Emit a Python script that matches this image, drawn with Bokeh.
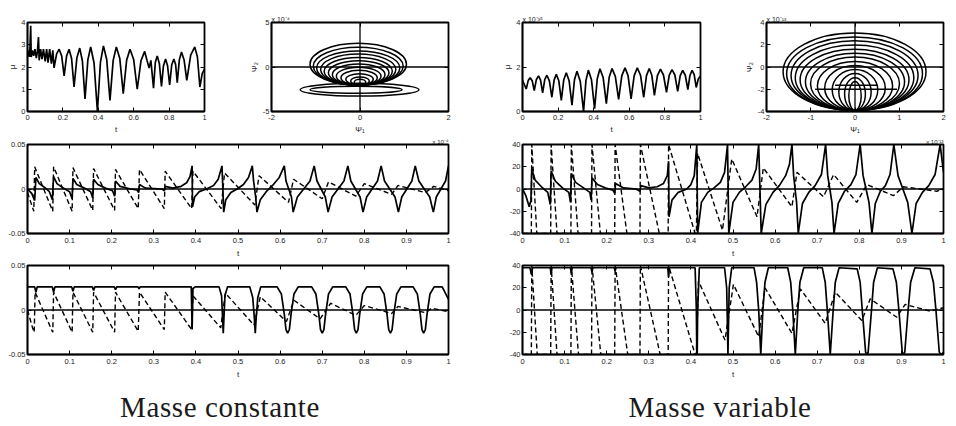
from bokeh.plotting import figure
from bokeh.models import Range1d, FixedTicker, Span, LinearAxis, Title, Div
from bokeh.layouts import column, row
from bokeh.embed import file_html
from bokeh.resources import INLINE

# ---------------- data ----------------
# Panel A : mu(t), masse constante
mu_const_pts = [(0, 2.45), (0.006, 2.75), (0.012, 2.45), (0.018, 3.85), (0.021, 2.45), (0.028, 2.75),
                (0.035, 2.5), (0.042, 2.8), (0.05, 2.4), (0.056, 2.7), (0.062, 3.35), (0.066, 2.3),
                (0.074, 2.8), (0.082, 2.35), (0.09, 2.8), (0.1, 2.25), (0.108, 2.8), (0.116, 2.2),
                (0.125, 2.8), (0.135, 2.15), (0.143, 2.75), (0.15, 1.96), (0.1645, 2.59), (0.179, 2.8),
                (0.193, 2.5), (0.207, 1.6), (0.221, 2.5), (0.235, 2.8), (0.249, 2.38), (0.263, 1.1),
                (0.279, 2.41), (0.295, 2.85), (0.31, 2.28), (0.325, 0.57), (0.341, 2.32), (0.357, 2.9),
                (0.376, 2.18), (0.395, 0.0), (0.412, 2.21), (0.429, 2.95), (0.4475, 2.34), (0.466, 0.5),
                (0.484, 2.3), (0.502, 2.9), (0.5215, 2.38), (0.541, 0.8), (0.56, 2.3), (0.579, 2.8),
                (0.5995, 2.35), (0.62, 1.0), (0.641, 2.28), (0.662, 2.7), (0.675, 2.3), (0.687, 1.95),
                (0.697, 2.3), (0.712, 1.05), (0.722, 2.2), (0.733, 2.5), (0.745, 2.15), (0.757, 1.13),
                (0.768, 2.05), (0.78, 2.36), (0.791, 2.07), (0.803, 1.2), (0.815, 2.1), (0.827, 2.36),
                (0.837, 2.1), (0.846, 1.3), (0.858, 2.33), (0.87, 2.67), (0.885, 2.3), (0.9, 1.4),
                (0.922, 2.53), (0.945, 2.9), (0.96, 2.45), (0.974, 1.1), (0.987, 1.7), (1.0, 1.9)]

# Panel E : mu(t), masse variable (x 1e-35)
mu_var_pts = [(0, 1.4), (0.021, 1.01), (0.032, 1.39), (0.043, 1.52), (0.0545, 1.38), (0.066, 0.94),
              (0.078, 1.44), (0.09, 1.6), (0.1015, 1.41), (0.113, 0.84), (0.125, 1.43), (0.137, 1.63),
              (0.151, 1.38), (0.165, 0.64), (0.1775, 1.41), (0.19, 1.67), (0.204, 1.38), (0.218, 0.5),
              (0.232, 1.43), (0.246, 1.74), (0.262, 1.38), (0.278, 0.28), (0.292, 1.43), (0.306, 1.81),
              (0.3245, 1.36), (0.343, 0.0), (0.3565, 1.4), (0.37, 1.86), (0.3875, 1.43), (0.405, 0.13),
              (0.42, 1.47), (0.435, 1.92), (0.453, 1.53), (0.471, 0.35), (0.487, 1.54), (0.503, 1.93),
              (0.5215, 1.58), (0.54, 0.54), (0.558, 1.61), (0.576, 1.96), (0.593, 1.61), (0.61, 0.57),
              (0.6275, 1.61), (0.645, 1.96), (0.663, 1.63), (0.681, 0.64), (0.6965, 1.61), (0.712, 1.93),
              (0.7265, 1.63), (0.741, 0.72), (0.758, 1.61), (0.775, 1.9), (0.792, 1.64), (0.809, 0.86),
              (0.8245, 1.63), (0.84, 1.88), (0.856, 1.64), (0.872, 0.9), (0.886, 1.61), (0.9, 1.85),
              (0.9145, 1.63), (0.929, 0.98), (0.941, 1.63), (0.953, 1.85), (0.9645, 1.66), (0.976, 1.08),
              (0.988, 1.47), (1.0, 1.6)]

# Panel B : phase portrait (psi1, psi2) x 1e-4, closed loops (centre, width, height)
loops_c_x = [-0.04, -0.04, -0.04, -0.04, -0.04, -0.03, -0.03, -0.03, -0.02, -0.01, 0.0, 0.0, -0.01, -0.09]
loops_c_y = [0.31, 0.10, -0.11, -0.29, -0.48, -0.66, -0.84, -1.03, -1.2, -1.39, -1.57, -1.7, -2.55, -2.56]
loops_c_w = [2.18, 2.03, 1.88, 1.70, 1.54, 1.37, 1.19, 1.01, 0.82, 0.62, 0.42, 0.26, 2.68, 2.08]
loops_c_h = [4.69, 4.25, 3.84, 3.48, 3.11, 2.74, 2.38, 2.01, 1.65, 1.28, 0.91, 0.66, 1.43, 0.77]

# Panel F : phase portrait (psi1, psi2) x 1e-13
loops_v_x = [-0.01, -0.01, -0.01, -0.01, -0.01, 0.0, 0.0, 0.0, 0.0, 0.0, 0.0, 0.0, 0.0]
loops_v_y = [-0.42, -0.6, -0.77, -0.96, -1.15, -1.33, -1.5, -1.7, -1.89, -2.06, -2.24, -2.43, -2.6]
loops_v_w = [3.23, 3.07, 2.87, 2.68, 2.46, 2.24, 2.01, 1.70, 1.37, 1.03, 0.73, 0.47, 0.28]
loops_v_h = [6.96, 6.61, 6.26, 5.88, 5.5, 5.15, 4.79, 4.41, 4.03, 3.68, 3.33, 2.95, 2.6]
bars_v_x0 = [-0.9, -0.45]
bars_v_x1 = [0.95, 0.5]
bars_v_y = [-2.0, -1.65]

# Panel C : masse constante, psi1 (solid) and psi2 (dashed)
c_solid_pts = [(0, 0.0), (0.01, -0.005), (0.017, -0.013), (0.02, 0.013), (0.028, 0.006), (0.04, 0.002),
               (0.052, -0.003), (0.059, -0.012), (0.062, 0.014), (0.07, 0.006), (0.085, 0.001),
               (0.1, -0.003), (0.106, -0.011), (0.108, 0.012), (0.117, 0.005), (0.135, 0.001),
               (0.15, -0.003), (0.155, -0.01), (0.157, 0.011), (0.167, 0.005), (0.185, 0.001),
               (0.202, -0.002), (0.207, -0.008), (0.209, 0.009), (0.22, 0.003), (0.245, 0.0),
               (0.26, -0.001), (0.264, -0.004), (0.266, 0.005), (0.28, 0.001), (0.32, 0.0),
               (0.325, -0.002), (0.327, 0.003), (0.345, 0.001), (0.365, 0.003), (0.378, 0.007),
               (0.386, 0.014), (0.391, 0.026), (0.392, -0.02), (0.397, -0.009), (0.408, -0.003),
               (0.425, 0.0), (0.442, 0.004), (0.453, 0.011), (0.462, 0.026), (0.466, -0.026),
               (0.471, -0.012), (0.483, -0.004), (0.498, 0.0), (0.513, 0.005), (0.525, 0.013),
               (0.534, 0.026), (0.537, 0.009), (0.5395, 0.0), (0.542, -0.009), (0.545, -0.026),
               (0.553, -0.012), (0.567, -0.003), (0.582, 0.004), (0.598, 0.013), (0.61, 0.026),
               (0.614, 0.009), (0.6205, 0.0), (0.627, -0.009), (0.631, -0.026), (0.641, -0.009),
               (0.656, 0.0), (0.671, 0.009), (0.681, 0.026), (0.6876, 0.009), (0.6975, 0.0),
               (0.7074, -0.009), (0.714, -0.026), (0.7234, -0.009), (0.7375, 0.0), (0.7516, 0.009),
               (0.761, 0.026), (0.768, 0.009), (0.779, 0.0), (0.79, -0.009), (0.797, -0.026),
               (0.8056, -0.009), (0.8185, 0.0), (0.8314, 0.009), (0.84, 0.026), (0.848, 0.009),
               (0.8605, 0.0), (0.873, -0.009), (0.881, -0.026), (0.889, -0.009), (0.901, 0.0),
               (0.913, 0.009), (0.921, 0.026), (0.9296, 0.009), (0.9425, 0.0), (0.9554, -0.009),
               (0.964, -0.026), (0.971, -0.009), (0.982, 0.0), (0.993, 0.009), (1.0, 0.026)]
c_dash_pts = [(0, -0.004), (0.015, -0.025), (0.017, 0.025), (0.06, -0.025), (0.062, 0.025),
              (0.106, -0.025), (0.108, 0.024), (0.155, -0.024), (0.157, 0.023), (0.207, -0.024),
              (0.209, 0.022), (0.263, -0.022), (0.266, 0.022), (0.325, -0.022), (0.327, 0.02),
              (0.39, -0.022), (0.393, 0.02), (0.46, -0.022), (0.468, 0.018), (0.54, -0.018),
              (0.55, 0.015), (0.62, -0.015), (0.632, 0.011), (0.7, -0.011), (0.715, 0.008),
              (0.78, -0.008), (0.8, 0.006), (0.865, -0.006), (0.88, 0.004), (0.945, -0.004),
              (0.965, 0.003), (1.0, -0.002)]

# Panel D : masse constante, second pair
d_solid_pts = [(0, 0.026), (0.017, 0.026), (0.02, 0.02), (0.023, 0.026), (0.059, 0.026), (0.062, 0.02),
               (0.065, 0.026), (0.105, 0.026), (0.108, 0.021), (0.111, 0.026), (0.154, 0.026),
               (0.157, 0.022), (0.16, 0.026), (0.206, 0.026), (0.209, 0.023), (0.212, 0.026),
               (0.262, 0.026), (0.265, 0.024), (0.268, 0.026), (0.389, 0.026), (0.391, -0.022),
               (0.393, 0.024), (0.398, 0.026), (0.455, 0.026), (0.461, 0.016), (0.465, -0.026),
               (0.469, 0.016), (0.475, 0.026), (0.528, 0.026), (0.535, 0.014), (0.539, -0.01),
               (0.541, -0.026), (0.543, -0.01), (0.547, 0.014), (0.554, 0.026),
               (0.593, 0.026), (0.603, 0.018), (0.61, -0.005), (0.614, -0.022), (0.618, -0.026),
               (0.622, -0.022), (0.626, -0.005), (0.633, 0.018), (0.643, 0.026),
               (0.675, 0.026), (0.685, 0.018), (0.692, -0.005), (0.696, -0.022), (0.7, -0.026),
               (0.704, -0.022), (0.708, -0.005), (0.715, 0.018), (0.725, 0.026),
               (0.756, 0.026), (0.766, 0.018), (0.773, -0.005), (0.777, -0.022), (0.781, -0.026),
               (0.785, -0.022), (0.789, -0.005), (0.796, 0.018), (0.806, 0.026),
               (0.837, 0.026), (0.847, 0.018), (0.854, -0.005), (0.858, -0.022), (0.862, -0.026),
               (0.866, -0.022), (0.87, -0.005), (0.877, 0.018), (0.887, 0.026),
               (0.916, 0.026), (0.926, 0.018), (0.933, -0.005), (0.937, -0.022), (0.941, -0.026),
               (0.945, -0.022), (0.949, -0.005), (0.956, 0.018), (0.966, 0.026),
               (0.985, 0.026), (1.0, 0.012)]
d_dash_pts = [(0, 0.0), (0.012, -0.02), (0.016, -0.025), (0.018, 0.02), (0.06, -0.025), (0.062, 0.02),
              (0.106, -0.025), (0.108, 0.02), (0.155, -0.025), (0.157, 0.02), (0.207, -0.025),
              (0.209, 0.02), (0.263, -0.024), (0.266, 0.02), (0.325, -0.022), (0.327, 0.02),
              (0.39, -0.022), (0.393, 0.016), (0.459, -0.02), (0.47, 0.019), (0.538, -0.017),
              (0.553, 0.015), (0.615, -0.013), (0.633, 0.011), (0.695, -0.01), (0.72, 0.0076),
              (0.78, -0.006), (0.8, 0.005), (0.865, -0.004), (0.88, 0.004), (0.945, -0.003),
              (0.96, 0.002), (1.0, -0.002)]

# Panel G : masse variable, psi1 (solid) and psi2 (dashed), x 1e-13
g_solid_pts = [(0, 0), (0.008, -6), (0.016, -16), (0.02, -10), (0.022, 18), (0.03, 8), (0.045, 2),
               (0.06, -3), (0.066, -14), (0.068, 16), (0.078, 7), (0.095, 1), (0.11, -3), (0.114, -12),
               (0.116, 14), (0.126, 6), (0.145, 1), (0.16, -3), (0.163, -10), (0.165, 10), (0.178, 4),
               (0.2, 0.5), (0.215, -1), (0.219, -4), (0.221, 5), (0.24, 1), (0.27, 0), (0.279, -2),
               (0.281, 3), (0.3, 1), (0.32, 2), (0.335, 5), (0.344, 12), (0.347, 25), (0.348, -25),
               (0.355, -10), (0.37, -3), (0.39, 0), (0.4, 4), (0.408, 12), (0.414, 40), (0.416, -40),
               (0.425, -12), (0.44, -3), (0.455, 1), (0.47, 6), (0.48, 15), (0.487, 40), (0.49, -40),
               (0.5, -12), (0.515, -3), (0.53, 2), (0.545, 8), (0.555, 18), (0.561, 40), (0.567, -40),
               (0.578, -14), (0.595, -3), (0.61, 3), (0.625, 12), (0.634, 22), (0.64, 40), (0.644, 12),
               (0.6475, 0), (0.651, -12), (0.655, -40), (0.665, -13), (0.68, -3), (0.695, 3), (0.71, 13),
               (0.72, 40), (0.725, 12), (0.73, 0), (0.735, -12), (0.74, -40), (0.75, -13), (0.765, -2),
               (0.78, 4), (0.792, 13), (0.802, 40), (0.809, 12), (0.816, 0), (0.823, -12), (0.83, -40),
               (0.838, -13), (0.85, -2), (0.862, 3), (0.873, 13), (0.882, 40), (0.892, 12),
               (0.9035, 0), (0.915, -12), (0.925, -40), (0.935, -13), (0.95, -3), (0.965, 3),
               (0.98, 13), (0.992, 40), (1.0, 15)]
g_dash_pts = [(0, -40), (0.021, -40), (0.022, 40), (0.034, -40), (0.067, -40), (0.068, 40),
              (0.082, -40), (0.115, -40), (0.116, 40), (0.132, -40), (0.164, -40), (0.165, 40),
              (0.185, -40), (0.219, -40), (0.22, 40), (0.248, -40), (0.279, -40), (0.28, 40),
              (0.325, -40), (0.346, -40), (0.347, 40), (0.41, -40), (0.413, -40), (0.416, 32),
              (0.475, -37), (0.497, 27), (0.557, -25), (0.572, 19), (0.64, -16), (0.652, 15),
              (0.715, -7), (0.739, 13), (0.794, -12), (0.818, 4), (0.881, -6), (0.905, 2),
              (0.984, -2), (1.0, 0)]

# Panel H : masse variable, second pair
h_solid_pts = [(0, 38), (0.018, 38), (0.021, 32), (0.024, 38), (0.066, 38), (0.068, 32), (0.07, 38),
               (0.114, 38), (0.116, 33), (0.118, 38), (0.163, 38), (0.165, 34), (0.167, 38),
               (0.218, 38), (0.22, 35), (0.222, 38), (0.345, 38), (0.347, 30), (0.349, 38), (0.41, 38),
               (0.413, 0), (0.414, -40), (0.415, -40), (0.416, 0), (0.42, 38), (0.48, 38), (0.485, 20),
               (0.488, -40), (0.491, 20), (0.497, 38), (0.55, 38), (0.556, 25), (0.561, 0),
               (0.566, -40), (0.571, 0), (0.576, 25), (0.584, 38), (0.63, 38), (0.637, 25),
               (0.642, 0), (0.648, -40), (0.654, 0), (0.659, 25), (0.668, 38), (0.712, 38),
               (0.719, 25), (0.724, 0), (0.731, -40), (0.738, 0), (0.743, 25), (0.752, 38),
               (0.795, 37), (0.802, 25), (0.807, 0), (0.815, -38), (0.818, -40), (0.821, -38),
               (0.829, 0), (0.834, 25), (0.843, 38), (0.88, 37), (0.888, 25), (0.894, 0),
               (0.902, -38), (0.905, -40), (0.908, -38), (0.916, 0), (0.922, 25), (0.932, 38),
               (0.968, 37), (0.976, 25), (0.982, 0), (0.99, -38), (0.995, -40), (1.0, -38)]
h_dash_pts = [(0, -40), (0.021, -40), (0.022, 40), (0.035, -40), (0.067, -40), (0.068, 40),
              (0.082, -40), (0.115, -40), (0.116, 40), (0.133, -40), (0.164, -40), (0.165, 40),
              (0.186, -40), (0.219, -40), (0.22, 40), (0.25, -40), (0.279, -40), (0.28, 40),
              (0.327, -40), (0.346, -40), (0.347, 40), (0.41, -40), (0.413, -40), (0.418, 26),
              (0.481, -27), (0.501, 23), (0.561, -24), (0.576, 20), (0.64, -21), (0.66, 19),
              (0.719, -12), (0.743, 16), (0.806, -9.5), (0.826, 10), (0.889, -6.5), (0.909, 5),
              (0.968, -1), (1.0, 2)]

# ticks
t5_ticks = [0, 0.2, 0.4, 0.6, 0.8, 1]
t5_labels = ["0", "0.2", "0.4", "0.6", "0.8", "1"]
t10_ticks = [0, 0.1, 0.2, 0.3, 0.4, 0.5, 0.6, 0.7, 0.8, 0.9, 1]
t10_labels = ["0", "0.1", "0.2", "0.3", "0.4", "0.5", "0.6", "0.7", "0.8", "0.9", "1"]
muc_ticks = [0, 1, 2, 3, 4]
muc_labels = ["0", "1", "2", "3", "4"]
muv_ticks = [0, 2, 4]
muv_labels = ["0", "2", "4"]
b_xticks = [-2, 0, 2]
b_xlabels = ["-2", "0", "2"]
b_yticks = [-5, 0, 5]
b_ylabels = ["-5", "0", "5"]
f_xticks = [-2, -1, 0, 1, 2]
f_xlabels = ["-2", "-1", "0", "1", "2"]
f_yticks = [-4, -2, 0, 2, 4]
f_ylabels = ["-4", "-2", "0", "2", "4"]
cd_yticks = [-0.05, 0, 0.05]
cd_ylabels = ["-0.05", "0", "0.05"]
gh_yticks = [-40, -20, 0, 20, 40]
gh_ylabels = ["-40", "-20", "0", "20", "40"]

FONT = "Liberation Sans"
TXT = "#222222"


def panel(width, height, borders, xr, yr, xt, xl, yt, yl, xlabel=None, ylabel=None, xstand=(4, 3)):
    left, right, top, bottom = borders
    p = figure(width=width, height=height, output_backend="svg", toolbar_location=None,
               x_range=Range1d(*xr), y_range=Range1d(*yr),
               min_border_left=left, min_border_right=right,
               min_border_top=top, min_border_bottom=bottom,
               background_fill_color="white", border_fill_color="white")
    p.grid.visible = False
    p.outline_line_color = "black"
    p.outline_line_width = 1.8
    p.outline_line_alpha = 1.0
    p.xaxis.ticker = FixedTicker(ticks=xt)
    p.xaxis.major_label_overrides = dict(zip(xt, xl))
    p.yaxis.ticker = FixedTicker(ticks=yt)
    p.yaxis.major_label_overrides = dict(zip(yt, yl))
    for ax in p.axis:
        ax.minor_tick_line_color = None
        ax.major_tick_in = 4
        ax.major_tick_out = 0
        ax.major_tick_line_color = "black"
        ax.major_tick_line_width = 1
        ax.axis_line_color = "black"
        ax.axis_line_width = 1.5
        ax.major_label_text_font = FONT
        ax.major_label_text_font_size = "7.5px"
        ax.major_label_text_color = TXT
        ax.major_label_standoff = 2
        ax.axis_label_text_font = FONT
        ax.axis_label_text_font_size = "8px"
        ax.axis_label_text_font_style = "normal"
        ax.axis_label_text_color = TXT
        ax.axis_label_standoff = 1
    p.xaxis.major_label_standoff = xstand[0]
    p.xaxis.axis_label_standoff = xstand[1]
    if xlabel:
        p.xaxis.axis_label = xlabel
    if ylabel:
        p.yaxis.axis_label = ylabel
    # mirrored tick marks on the top and right edges (box style), labels hidden
    for ticks, side in ((xt, "above"), (yt, "right")):
        ax = LinearAxis(ticker=FixedTicker(ticks=ticks), major_label_text_font_size="1px",
                        major_label_text_color=None, major_label_standoff=0,
                        major_label_overrides={k: "" for k in ticks},
                        major_tick_in=4, major_tick_out=0,
                        minor_tick_line_color=None, axis_line_color=None,
                        major_tick_line_color="black")
        p.add_layout(ax, side)
    return p


def series(p, pts, dashed=False):
    xs = [a for a, _ in pts]
    ys = [b for _, b in pts]
    if dashed:
        p.line(xs, ys, line_color="black", line_width=1.4, line_dash="5 3")
    else:
        p.line(xs, ys, line_color="black", line_width=1.7)


def zero_lines(p, both=False):
    p.add_layout(Span(location=0, dimension="width", line_color="black", line_width=1.3))
    if both:
        p.add_layout(Span(location=0, dimension="height", line_color="black", line_width=1.3))


def multiplier(p, text, align, size="7px"):
    p.add_layout(Title(text=text, align=align, offset=0, standoff=0, text_font=FONT,
                       text_font_size=size, text_font_style="normal", text_color=TXT), "above")


# ---------------- row 1 ----------------
R1 = (3, 2)
pA = panel(224, 136, (27, 20, 22, 23), (0, 1), (0, 4), t5_ticks, t5_labels, muc_ticks, muc_labels,
           xlabel="t", ylabel="\u03bc", xstand=R1)
series(pA, mu_const_pts)

pB = panel(268, 136, (47, 44, 22, 23), (-2, 2), (-5, 5), b_xticks, b_xlabels, b_yticks, b_ylabels,
           xlabel="\u03a8\u2081", ylabel="\u03a8\u2082", xstand=R1)
zero_lines(pB, both=True)
pB.ellipse(x=loops_c_x, y=loops_c_y, width=loops_c_w, height=loops_c_h,
           fill_color=None, line_color="black", line_width=1.5)
multiplier(pB, "x 10\u207b\u2074", "left")

pE = panel(228, 136, (30, 20, 22, 23), (0, 1), (0, 4), t5_ticks, t5_labels, muv_ticks, muv_labels,
           xlabel="t", ylabel="\u03bc", xstand=R1)
series(pE, mu_var_pts)
multiplier(pE, "x 10\u207b\u00b3\u2075", "left")

pF = panel(236, 136, (46, 13, 22, 23), (-2, 2), (-4, 4), f_xticks, f_xlabels, f_yticks, f_ylabels,
           xlabel="\u03a8\u2081", ylabel="\u03a8\u2082", xstand=R1)
zero_lines(pF, both=True)
pF.ellipse(x=loops_v_x, y=loops_v_y, width=loops_v_w, height=loops_v_h,
           fill_color=None, line_color="black", line_width=1.5)
pF.segment(x0=bars_v_x0, y0=bars_v_y, x1=bars_v_x1, y1=bars_v_y, line_color="black", line_width=1.5)
multiplier(pF, "x 10\u207b\u00b9\u00b3", "left")

# ---------------- row 2 ----------------
pC = panel(478, 124, (27, 30, 7, 27), (0, 1), (-0.05, 0.05), t10_ticks, t10_labels, cd_yticks, cd_ylabels,
           xlabel="t")
zero_lines(pC)
series(pC, c_dash_pts, dashed=True)
series(pC, c_solid_pts)
multiplier(pC, "x 10\u207b\u2074", "right", "6px")   # exponent of the psi1 axis above

pG = panel(478, 124, (44, 13, 7, 27), (0, 1), (-40, 40), t10_ticks, t10_labels, gh_yticks, gh_ylabels,
           xlabel="t")
zero_lines(pG)
series(pG, g_dash_pts, dashed=True)
series(pG, g_solid_pts)
multiplier(pG, "x 10\u207b\u00b9\u00b3", "right", "6px")

# ---------------- row 3 ----------------
pD = panel(478, 124, (27, 30, 5, 30), (0, 1), (-0.05, 0.05), t10_ticks, t10_labels, cd_yticks, cd_ylabels,
           xlabel="t")
zero_lines(pD)
series(pD, d_dash_pts, dashed=True)
series(pD, d_solid_pts)

pH = panel(478, 124, (44, 13, 5, 30), (0, 1), (-40, 40), t10_ticks, t10_labels, gh_yticks, gh_ylabels,
           xlabel="t")
zero_lines(pH)
series(pH, h_dash_pts, dashed=True)
series(pH, h_solid_pts)

# ---------------- captions ----------------
cap_style = {"font-family": "Liberation Serif", "font-size": "29px", "color": "#1a1a1a",
             "letter-spacing": "0.6px", "line-height": "30px", "box-sizing": "border-box",
             "padding-top": "8px", "text-align": "center", "white-space": "nowrap"}
capC = Div(text="Masse constante", width=478, height=42, margin=0,
           styles=dict(cap_style, **{"padding-right": "38px"}))
capV = Div(text="Masse variable", width=478, height=42, margin=0,
           styles=dict(cap_style, **{"padding-left": "6px"}))

layout = column(row(pA, pB, pE, pF), row(pC, pG), row(pD, pH), row(capC, capV))
open("out.html", "w").write(file_html(layout, INLINE))
